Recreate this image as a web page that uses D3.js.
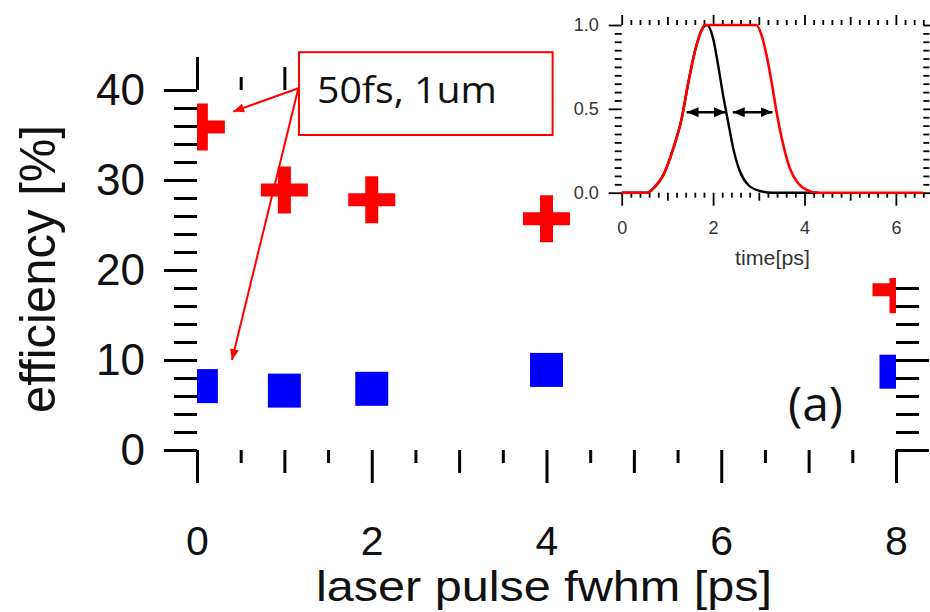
<!DOCTYPE html>
<html><head><meta charset="utf-8">
<script src="https://cdn.jsdelivr.net/npm/d3@7"></script>
<style>html,body{margin:0;padding:0;background:#fff;} svg{display:block;}</style>
</head><body><svg id="c" width="930" height="612"></svg>
<script>
// ---------- data ----------
const pulseFwhm = [0.05, 1, 2, 4, 8];
const effRed = [35.9, 28.9, 27.8, 25.7, 17.8];
const effBlue = [7.1, 6.6, 6.8, 8.9, 8.7];
const xTickLabels = [0, 2, 4, 6, 8];
const yTickLabels = [0, 10, 20, 30, 40];
const xLabel = "laser pulse fwhm [ps]";
const yLabel = "efficiency [%]";
const panelLabel = "(a)";
const noteText = "50fs, 1um";
const noteBox = [1.167, 44.2, 4.07, 35.0];      // x0, yTop, x1, yBottom (data units)
const noteOrigin = [1.16, 40.2];
const noteTips = [[0.415, 37.6], [0.40, 10.0]];

// inset: pulse shapes
const redT = [0, 0.55, 0.73, 0.91, 1.13, 1.31, 1.46, 1.60, 1.75, 1.82, 2.95, 3.06, 3.17, 3.28, 3.39, 3.54, 3.68, 3.86, 4.05, 4.27, 6.6];
const redV = [0, 0, 0.036, 0.105, 0.265, 0.44, 0.66, 0.84, 0.97, 1.0, 1.0, 0.94, 0.82, 0.66, 0.48, 0.28, 0.145, 0.056, 0.016, 0, 0];
const blackT = [0, 0.55, 0.73, 0.91, 1.13, 1.31, 1.46, 1.60, 1.75, 1.87, 2.0, 2.11, 2.22, 2.33, 2.44, 2.59, 2.77, 3.03, 3.3, 4.3];
const blackV = [0, 0, 0.036, 0.105, 0.265, 0.44, 0.66, 0.84, 0.97, 1.0, 0.92, 0.76, 0.58, 0.42, 0.265, 0.125, 0.046, 0.01, 0, 0];
const insetXTickLabels = [0, 2, 4, 6];
const insetYTickLabels = [0, 0.5, 1];
const insetXLabel = "time[ps]";
const fwhmArrows = [[1.42, 2.28], [2.43, 3.30]];
const fwhmLevel = 0.48;

// ---------- setup ----------
const svg = d3.select("#c");
const defs = svg.append("defs");
const SANS = "'Liberation Sans', Arial, Helvetica, sans-serif";
const CAL = "'Open Sans', 'Liberation Sans', sans-serif";

function drawAxis(orient, scale, pos, vals, size, opts = {}) {
  const gen = {bottom: d3.axisBottom, top: d3.axisTop, left: d3.axisLeft, right: d3.axisRight}[orient];
  const ax = gen(scale).tickValues(vals).tickSize(size).tickPadding(opts.pad || 0)
    .tickFormat(opts.fmt || (() => ""));
  const tr = (orient === "bottom" || orient === "top") ? `translate(0,${pos})` : `translate(${pos},0)`;
  const g = svg.append("g").attr("transform", tr).call(ax);
  g.select(".domain").remove();
  g.selectAll("line").attr("stroke", "#000").attr("stroke-width", opts.sw || 3);
  g.selectAll("text").attr("font-family", opts.ff || SANS).attr("font-size", opts.fs || 44)
    .attr("fill", opts.fill || "#111");
  g.attr("font-size", null).attr("font-family", null);
  return g;
}

// ---------- main plot ----------
const x = d3.scaleLinear().domain([0, 8]).range([197, 896]);
const y = d3.scaleLinear().domain([0, 40]).range([450, 90]);

const xHalves = d3.range(0, 16).filter(i => i % 2 === 1).map(i => i / 2);
const xOdds = d3.range(1, 8, 2);
const yMinor = d3.range(0, 41, 2).filter(v => v % 10 !== 0);

// bottom
drawAxis("bottom", x, y(0), xTickLabels, 33, {pad: 43, fmt: d => d, fs: 41});
drawAxis("bottom", x, y(0), xOdds, 23);
drawAxis("bottom", x, y(0), xHalves, 13);
// top
drawAxis("top", x, y(40), xTickLabels, 33);
drawAxis("top", x, y(40), xOdds, 23);
drawAxis("top", x, y(40), xHalves, 13);
// left
drawAxis("left", y, x(0), yTickLabels, 33, {pad: 19, fmt: d => d});
drawAxis("left", y, x(0), yMinor, 23);
// right
drawAxis("right", y, x(8), yTickLabels, 33);
drawAxis("right", y, x(8), yMinor, 23);

// clip
defs.append("clipPath").attr("id", "plotClip").append("rect")
  .attr("x", x(0)).attr("y", 0).attr("width", x(8) - x(0)).attr("height", 612);

const crossHalf = 23.5, crossArm = 6.5;
const crossPath = `M${-crossArm},${-crossHalf}H${crossArm}V${-crossArm}H${crossHalf}V${crossArm}H${crossArm}V${crossHalf}H${-crossArm}V${crossArm}H${-crossHalf}V${-crossArm}H${-crossArm}Z`;

const marks = svg.append("g").attr("clip-path", "url(#plotClip)");
marks.selectAll("rect.blue").data(pulseFwhm).enter().append("rect").attr("class", "blue")
  .attr("x", d => x(d) - 16.5).attr("y", (d, i) => y(effBlue[i]) - 17)
  .attr("width", 33).attr("height", 34).attr("fill", "#0000ff");
marks.selectAll("path.red").data(pulseFwhm).enter().append("path").attr("class", "red")
  .attr("d", crossPath).attr("transform", (d, i) => `translate(${x(d)},${y(effRed[i])})`)
  .attr("fill", "#ff0000");

// annotation
defs.append("marker").attr("id", "arRed").attr("viewBox", "0 0 12 10")
  .attr("refX", 12).attr("refY", 5).attr("markerWidth", 12).attr("markerHeight", 9)
  .attr("markerUnits", "userSpaceOnUse").attr("orient", "auto")
  .append("path").attr("d", "M0,0L12,5L0,10Z").attr("fill", "#f00");

svg.append("rect")
  .attr("x", x(noteBox[0])).attr("y", y(noteBox[1]))
  .attr("width", x(noteBox[2]) - x(noteBox[0])).attr("height", y(noteBox[3]) - y(noteBox[1]))
  .attr("fill", "#fff").attr("stroke", "#f00").attr("stroke-width", 2);
svg.append("text").attr("x", x(noteBox[0]) + 18).attr("y", y(noteBox[1]) + 51)
  .attr("font-family", CAL).attr("font-size", 37).attr("fill", "#111")
  .attr("textLength", 180).attr("lengthAdjust", "spacingAndGlyphs").text(noteText);
svg.selectAll("line.note").data(noteTips).enter().append("line").attr("class", "note")
  .attr("x1", x(noteOrigin[0])).attr("y1", y(noteOrigin[1]))
  .attr("x2", d => x(d[0])).attr("y2", d => y(d[1]))
  .attr("stroke", "#f00").attr("stroke-width", 2).attr("marker-end", "url(#arRed)");

// panel label
svg.append("text").attr("x", 788).attr("y", 421).attr("font-family", CAL).attr("font-size", 48)
  .attr("fill", "#111").text(panelLabel);

// axis titles
svg.append("text").attr("x", 544).attr("y", 601).attr("text-anchor", "middle")
  .attr("font-family", SANS).attr("font-size", 42).attr("fill", "#111")
  .attr("textLength", 456).attr("lengthAdjust", "spacingAndGlyphs").text(xLabel);
svg.append("text").attr("transform", "translate(55,269) rotate(-90)").attr("text-anchor", "middle")
  .attr("font-family", SANS).attr("font-size", 50).attr("fill", "#111")
  .attr("textLength", 288).attr("lengthAdjust", "spacingAndGlyphs").text(yLabel);

// ---------- inset ----------
svg.append("rect").attr("x", 571).attr("y", 0).attr("width", 359).attr("height", 278).attr("fill", "#fff");

const xi = d3.scaleLinear().domain([0, 6.6]).range([621.7, 923.3]);
const yi = d3.scaleLinear().domain([0, 1]).range([192.7, 25]);

const xiMinor = d3.range(0, 34).filter(i => i % 5 !== 0).map(i => i / 5);
const xiOdd = [1, 3, 5];
const yiMinor = d3.range(0, 21).filter(i => i % 10 !== 0).map(i => i / 20);
const io = {sw: 1.8};

drawAxis("bottom", xi, yi(0), insetXTickLabels, 13, {sw: 1.8, pad: 16, fmt: d => d, fs: 18, fill: "#333"});
drawAxis("bottom", xi, yi(0), xiOdd, 8, io);
drawAxis("bottom", xi, yi(0), xiMinor, 5, io);
drawAxis("top", xi, yi(1), insetXTickLabels, 10, io);
drawAxis("top", xi, yi(1), xiOdd, 8, io);
drawAxis("top", xi, yi(1), xiMinor, 5, io);
drawAxis("left", yi, xi(0), insetYTickLabels, 13, {sw: 1.8, pad: 10, fmt: d3.format(".1f"), fs: 18, fill: "#333"});
drawAxis("left", yi, xi(0), yiMinor, 7, io);
drawAxis("right", yi, xi(6.6), insetYTickLabels, 8, io);
drawAxis("right", yi, xi(6.6), yiMinor, 6, io);

const lineGen = d3.line().x(d => xi(d[0])).y(d => yi(d[1])).curve(d3.curveMonotoneX);
svg.append("path").attr("d", lineGen(blackT.map((t, i) => [t, blackV[i]])))
  .attr("fill", "none").attr("stroke", "#000").attr("stroke-width", 2.4);
svg.append("path").attr("d", lineGen(redT.map((t, i) => [t, redV[i]])))
  .attr("fill", "none").attr("stroke", "#f00").attr("stroke-width", 2.6);

defs.append("marker").attr("id", "arBlk").attr("viewBox", "0 0 12 10")
  .attr("refX", 12).attr("refY", 5).attr("markerWidth", 12).attr("markerHeight", 10)
  .attr("markerUnits", "userSpaceOnUse").attr("orient", "auto-start-reverse")
  .append("path").attr("d", "M0,0L12,5L0,10Z").attr("fill", "#000");
svg.selectAll("line.fw").data(fwhmArrows).enter().append("line").attr("class", "fw")
  .attr("x1", d => xi(d[0])).attr("x2", d => xi(d[1]))
  .attr("y1", yi(fwhmLevel)).attr("y2", yi(fwhmLevel))
  .attr("stroke", "#000").attr("stroke-width", 2.5)
  .attr("marker-start", "url(#arBlk)").attr("marker-end", "url(#arBlk)");

svg.append("text").attr("x", xi(3.3)).attr("y", 265).attr("text-anchor", "middle")
  .attr("font-family", SANS).attr("font-size", 21).attr("fill", "#333")
  .attr("textLength", 75).attr("lengthAdjust", "spacingAndGlyphs").text(insetXLabel);
</script></body></html>
